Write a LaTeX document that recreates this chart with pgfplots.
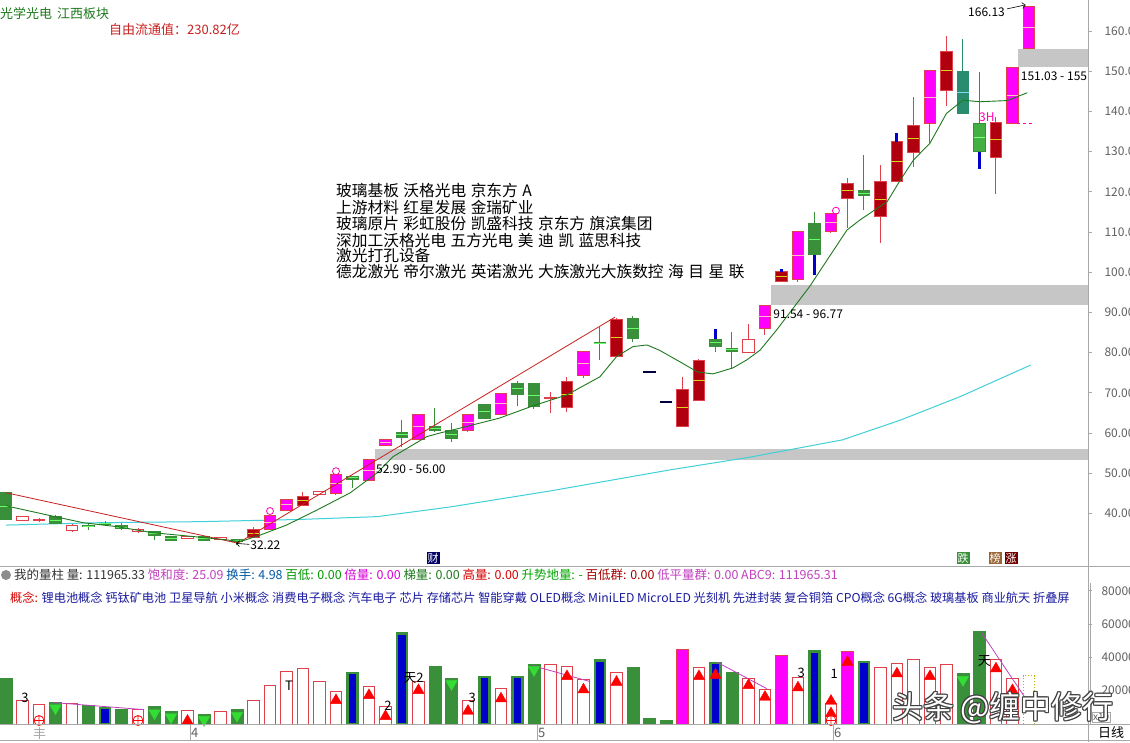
\documentclass[border=0pt]{standalone}
\usepackage{fontspec}
\setmainfont{Noto Sans CJK SC}
\usepackage{pgfplots}
\pgfplotsset{compat=1.18}
\usepgfplotslibrary{statistics}
\usetikzlibrary{arrows.meta}

\definecolor{cred}{HTML}{E0404A}
\definecolor{cdark}{HTML}{B00010}
\definecolor{cmag}{HTML}{FF00FF}
\definecolor{cgreen}{HTML}{3A8F3A}
\definecolor{cteal}{HTML}{2A8C6E}
\definecolor{clgreen}{HTML}{44B044}
\definecolor{cbright}{HTML}{33DD33}
\definecolor{cblue}{HTML}{0000CC}
\definecolor{ccyan}{HTML}{3FD0D8}
\definecolor{cma}{HTML}{1E7A1E}
\definecolor{ctrend}{HTML}{C82020}
\definecolor{cband}{HTML}{C6C6C6}
\definecolor{caxis}{HTML}{A8A8A8}
\definecolor{ctick}{HTML}{606060}
\definecolor{cnavy}{HTML}{1A1AA0}
\definecolor{cpurp}{HTML}{C040C0}

\pgfplotsset{
 cH/.style={draw=cred, line width=1pt, boxplot/every box/.style={fill=white}, boxplot/every median/.style={draw=none}},
 cR/.style={draw=cred, line width=1pt, boxplot/every box/.style={fill=cred}, boxplot/every median/.style={draw=none}},
 cD/.style={draw=cred, line width=1pt, boxplot/every box/.style={fill=cdark}, boxplot/every median/.style={draw=yellow!85!black}},
 cM/.style={draw=cred, line width=1pt, boxplot/every box/.style={fill=cmag}, boxplot/every median/.style={draw=pink}},
 cG/.style={draw=cgreen, line width=1pt, boxplot/every box/.style={fill=cgreen}, boxplot/every median/.style={draw=green!60!white}},
 cT/.style={draw=cteal, line width=1pt, boxplot/every box/.style={fill=cteal}, boxplot/every median/.style={draw=cyan!50!white}},
 cL/.style={draw=cgreen, line width=1pt, boxplot/every box/.style={fill=clgreen}, boxplot/every median/.style={draw=green!50!white}},
 cK/.style={draw=black!75!blue, line width=1pt, boxplot/every box/.style={fill=black!75!blue}, boxplot/every median/.style={draw=none}},
}
\newcommand{\cdl}[7]{\addplot[#7, boxplot prepared={draw position=#1, lower whisker=#2, lower quartile=#3, median=#4, upper quartile=#5, upper whisker=#6}] coordinates {};}
\newcommand{\gap}{\hspace{4.5pt}}
\newcommand{\fs}[1]{\fontsize{#1}{#1}\selectfont}

\begin{document}
\begin{tikzpicture}
\path[use as bounding box, fill=white] (0pt,0pt) rectangle (1130pt,-742pt);

% ---------------- price panel ----------------
\begin{axis}[at={(0pt,0pt)}, anchor=north west, scale only axis, width=1088pt, height=566pt,
  xmin=-0.364, xmax=65.58, ymin=26.92, ymax=167.71,
  axis x line=none, axis y line*=right, axis line style={draw=caxis, line width=0.8pt},
  ytick={40,50,...,160}, tick align=outside, major tick length=4pt,
  tick style={draw=caxis, line width=0.8pt},
  yticklabel={\pgfmathprintnumber[fixed,fixed zerofill,precision=2]{\tick}},
  yticklabel style={anchor=west, font=\fs{12}, text=ctick, xshift=9pt},
  /pgf/number format/assume math mode=true,
  boxplot/draw direction=y, boxplot/box extend=0.72, boxplot/whisker extend=0]

% gap bands
\addplot[fill=cband, draw=none] coordinates {(22.36,53.4) (65.58,53.4) (65.58,56.0) (22.36,56.0)};
\addplot[fill=cband, draw=none] coordinates {(46.36,91.8) (65.58,91.8) (65.58,96.8) (46.36,96.8)};
\addplot[fill=cband, draw=none] coordinates {(61.33,151.1) (65.58,151.1) (65.58,155.5) (61.33,155.5)};

% long moving average (cyan)
\addplot[ccyan, line width=1pt] coordinates {(0,37.1) (5.7,37.7) (11.75,37.95) (17.8,38.5) (22.5,39.2) (26.9,41.6) (33.0,45.6) (40.2,50.8) (45.1,54.0) (50.7,58.3) (54.2,63.2) (57.8,69.0) (62.1,76.9)};

% candles: i, low, body low, mid, body high, high
\cdl{0}{38.5}{38.5}{41.8}{45.15}{45.15}{cG}
\cdl{1}{38.2}{38.2}{38.8}{39.35}{39.35}{cH}
\cdl{2}{37.9}{38.25}{38.4}{38.5}{38.9}{cR}
\cdl{3}{37.5}{37.5}{38.35}{39.2}{39.6}{cG}
\cdl{4}{35.3}{35.7}{36.3}{36.9}{37.3}{cH}
\cdl{5}{35.8}{36.7}{36.85}{37.0}{37.6}{cG}
\cdl{6}{36.9}{37.3}{37.4}{37.5}{38.0}{cG}
\cdl{7}{35.9}{36.3}{36.6}{36.9}{37.7}{cG}
\cdl{8}{35.2}{35.4}{35.7}{36.0}{36.3}{cH}
\cdl{9}{33.4}{34.55}{35.0}{35.45}{35.45}{cG}
\cdl{10}{33.3}{33.3}{33.8}{34.3}{34.3}{cG}
\cdl{11}{33.7}{33.7}{34.0}{34.3}{34.3}{cH}
\cdl{12}{33.3}{33.3}{33.8}{34.3}{34.3}{cG}
\cdl{13}{33.4}{33.4}{33.75}{34.1}{34.1}{cH}
\cdl{14}{32.22}{33.0}{33.3}{33.6}{33.6}{cG}
\cdl{15}{34.05}{34.05}{35.0}{36.0}{36.7}{cD}
\cdl{16}{36.05}{36.05}{37.8}{39.6}{39.6}{cM}
\cdl{17}{40.7}{40.7}{42.1}{43.5}{43.5}{cM}
\cdl{18}{42.0}{42.0}{43.15}{44.3}{45.4}{cD}
\cdl{19}{44.6}{44.6}{45.0}{45.4}{45.6}{cH}
\cdl{20}{44.6}{45.0}{47.4}{49.8}{49.8}{cM}
\cdl{21}{46.2}{48.5}{48.9}{49.3}{49.3}{cG}
\cdl{22}{48.3}{48.3}{50.8}{53.3}{53.3}{cM}
\cdl{23}{56.9}{56.9}{57.65}{58.4}{58.4}{cM}
\cdl{24}{56.6}{58.9}{59.55}{60.2}{63.2}{cG}
\cdl{25}{58.4}{58.4}{61.5}{64.6}{64.6}{cM}
\cdl{26}{60.3}{60.7}{61.2}{61.7}{66.1}{cG}
\cdl{27}{57.85}{58.7}{59.7}{60.7}{62.4}{cG}
\cdl{28}{60.3}{60.7}{62.6}{64.5}{64.5}{cM}
\cdl{29}{63.4}{63.7}{65.4}{67.1}{67.1}{cG}
\cdl{30}{64.7}{64.7}{67.3}{69.9}{69.9}{cM}
\cdl{31}{66.7}{69.7}{70.95}{72.2}{72.9}{cG}
\cdl{32}{65.9}{66.7}{69.45}{72.2}{72.2}{cG}
\cdl{33}{65.1}{68.7}{68.8}{68.9}{70.3}{cR}
\cdl{34}{65.3}{66.3}{69.6}{72.9}{73.85}{cD}
\cdl{35}{73.8}{74.2}{77.2}{80.2}{80.2}{cM}
\cdl{36}{78.2}{82.2}{82.35}{82.5}{86.4}{cG}
\cdl{37}{79.0}{79.0}{83.65}{88.3}{88.5}{cD}
\cdl{38}{82.7}{83.5}{86.0}{88.5}{89.1}{cG}
\cdl{39}{75.1}{75.1}{75.2}{75.3}{75.3}{cK}
\cdl{40}{67.6}{67.6}{67.7}{67.8}{67.8}{cK}
\cdl{41}{61.7}{61.7}{66.3}{70.9}{74.0}{cD}
\cdl{42}{68.1}{68.2}{73.1}{78.0}{78.3}{cD}
\cdl{43}{80.2}{81.5}{82.4}{83.3}{83.3}{cG}
\cdl{44}{75.8}{80.4}{80.7}{81.0}{85.2}{cG}
\cdl{45}{80.0}{80.0}{81.65}{83.3}{87.1}{cH}
\cdl{46}{84.4}{86.0}{88.9}{91.8}{91.8}{cM}
\cdl{47}{97.6}{97.6}{98.85}{100.1}{100.1}{cD}
\cdl{48}{97.6}{98.2}{104.2}{110.2}{110.2}{cM}
\cdl{49}{104.3}{104.3}{108.25}{112.2}{115.1}{cG}
\cdl{50}{109.8}{110.1}{112.35}{114.6}{114.6}{cM}
\cdl{51}{110.9}{118.4}{120.25}{122.1}{123.4}{cD}
\cdl{52}{115.5}{119.0}{119.65}{120.3}{129.2}{cG}
\cdl{53}{107.3}{113.8}{118.15}{122.5}{126.7}{cD}
\cdl{54}{122.5}{122.5}{127.5}{132.5}{132.5}{cD}
\cdl{55}{126.2}{129.9}{133.15}{136.4}{143.7}{cD}
\cdl{56}{132.1}{137.0}{143.55}{150.1}{150.1}{cM}
\cdl{57}{141.3}{145.3}{150.1}{154.9}{158.8}{cD}
\cdl{58}{139.5}{139.5}{144.75}{150.0}{157.9}{cT}
\cdl{59}{130.0}{130.0}{133.5}{137.0}{149.9}{cL}
\cdl{60}{119.5}{128.6}{132.9}{137.2}{138.7}{cD}
\cdl{61}{137.0}{137.0}{143.95}{150.9}{150.9}{cM}
\cdl{62}{155.7}{155.7}{160.9}{166.13}{166.13}{cM}

% blue wick segments
\addplot[cblue, line width=3pt] coordinates {(43,83.3) (43,85.8)};
\addplot[cblue, line width=3pt] coordinates {(47,100.1) (47,100.7)};
\addplot[cblue, line width=3pt] coordinates {(49,99.3) (49,104.3)};
\addplot[cblue, line width=3pt] coordinates {(54,132.5) (54,134.7)};
\addplot[cblue, line width=3pt] coordinates {(59,125.6) (59,130.0)};

% trend line (red)
\addplot[ctrend, line width=0.8pt] coordinates {(0,45.15) (14.05,32.6) (36.9,88.8)};

% short moving average (green)
\addplot[cma, line width=0.9pt] coordinates {(0,42.0) (0.24,41.67) (2.97,39.2) (4.67,37.7) (6.73,36.7) (8.9,35.2) (10.97,34.4) (12.97,33.6) (14.2,33.0) (15.4,34.6) (17.0,37.1) (18.85,40.85) (20.85,45.1) (22.5,50.1) (23.45,54.1) (25.5,59.1) (26.3,60.0) (27.5,61.2) (29.9,63.7) (31.9,66.7) (34.0,69.5) (36.0,74.0) (37.0,79.0) (38.0,81.5) (38.85,81.9) (39.6,80.6) (40.85,77.7) (41.9,75.2) (42.85,74.7) (44.06,76.2) (44.9,78.2) (45.7,80.6) (46.7,85.6) (47.7,91.0) (48.7,96.4) (49.76,103.0) (50.97,110.5) (51.76,113.0) (52.5,115.05) (53.4,117.5) (54.2,122.9) (55.0,127.9) (56.0,132.1) (57.0,139.5) (58.0,142.8) (59.0,142.4) (60.7,142.7) (61.9,144.65)};

% marker circles and 3H dashed line
\addplot[only marks, mark=o, mark size=3.5pt, draw=cmag!70!red, line width=0.8pt] coordinates {(16,40.6) (20,50.5) (50.3,115.3)};
\addplot[cmag!80!red, dashed, line width=0.8pt] coordinates {(61.3,137.1) (62.3,137.1)};

% annotations
\node[anchor=west, inner sep=0pt, font=\fs{12}] at (axis cs:22.42,51.0) {52.90 - 56.00};
\node[anchor=west, inner sep=0pt, font=\fs{12}] at (axis cs:46.5,89.6) {91.54 - 96.77};
\node[anchor=west, inner sep=0pt, font=\fs{12}] at (axis cs:61.5,148.8) {151.03 - 155};
\node[anchor=west, inner sep=0pt, font=\fs{12}] at (axis cs:14.8,32.1) {32.22};
\draw[line width=0.6pt, -{Straight Barb[length=3pt]}] (axis cs:14.75,32.3) -- (axis cs:13.95,32.55);
\node[anchor=east, inner sep=0pt, font=\fs{12}] at (axis cs:60.55,164.7) {166.13};
\draw[line width=0.6pt, -{Straight Barb[length=3pt]}] (axis cs:60.67,165.5) -- (axis cs:61.8,166.5);
\node[inner sep=0pt, font=\fs{12}, text=cmag!70!red] at (axis cs:59.45,138.6) {3H};
\end{axis}

% ---------------- volume panel ----------------
\begin{axis}[at={(0pt,-583pt)}, anchor=north west, scale only axis, width=1088pt, height=141pt,
  xmin=-0.364, xmax=65.58, ymin=0, ymax=84685,
  axis x line=none, axis y line*=right, axis line style={draw=caxis, line width=0.8pt},
  ytick={20000,40000,60000,80000}, scaled y ticks=false, tick align=outside, major tick length=4pt,
  tick style={draw=caxis, line width=0.8pt},
  yticklabel={\pgfmathprintnumber[fixed,1000 sep={}]{\tick}},
  yticklabel style={anchor=west, font=\fs{12}, text=ctick, xshift=6pt},
  /pgf/number format/assume math mode=true]

\addplot[ybar, bar width=0.72, bar shift=0pt, draw=cgreen, fill=cgreen, line width=0.8pt] coordinates {(0,27150) (3,12900) (5,10930) (7,8890) (9,10500) (10,7500) (12,5700) (14,8700) (26,34500) (27,27100) (32,35700) (38,33900) (39,3500) (40,2100) (44,30900) (58,30500) (59,55700)};
\addplot[ybar, bar width=0.72, bar shift=0pt, draw=cred, fill=white, line width=1pt] coordinates {(1,14100) (2,11530) (4,12130) (8,8530) (11,8100) (13,7500) (15,14100) (16,23100) (17,31500) (18,33150) (19,25500) (20,19500) (22,22500) (23,10500) (25,25500) (28,14100) (30,21100) (33,35500) (34,34700) (35,26500) (37,30700) (42,34100) (45,27300) (46,20900) (48,27700) (50,12500) (53,33700) (54,36100) (55,38500) (56,33700) (57,35500) (60,38500) (61,27100)};
\addplot[ybar, bar width=0.6, bar shift=0pt, draw=cgreen, fill=cblue, line width=2.5pt] coordinates {(6,9490) (21,30500) (24,54500) (29,28100) (31,28100) (36,38100) (43,36700) (49,43500) (52,37100)};
\addplot[ybar, bar width=0.72, bar shift=0pt, draw=cred, fill=cmag, line width=1pt] coordinates {(41,44500) (47,41100) (51,43500)};
\addplot[ybar, bar width=0.72, bar shift=0pt, draw=olive!60!yellow, fill=none, dotted, line width=1pt] coordinates {(62,29100)};

\addplot[cpurp, line width=0.8pt] coordinates {(2.85,12900) (8.3,8700)};
\addplot[cpurp, line width=0.8pt] coordinates {(31.9,35100) (35.4,25500)};
\addplot[cpurp, line width=0.8pt] coordinates {(43.1,37100) (46.1,21300)};
\addplot[cpurp, line width=0.8pt] coordinates {(59.15,54500) (61.8,15300)};

\addplot[only marks, mark=triangle*, mark size=6.5pt, color=red] coordinates {(11,1800) (20,14200) (22,17200) (23,4600) (25,20200) (28,7800) (30,15200) (34,28600) (35,20600) (37,25200) (42,28600) (43,29400) (45,23200) (46,16200) (48,21800) (50,13800) (50,6300) (51,37200) (54,30200) (56,28600) (60,33200) (61,20200)};
\addplot[only marks, mark=triangle*, mark size=6.5pt, mark options={rotate=180, fill=cbright, draw=cbright}] coordinates {(3,9500) (9,6500) (10,4100) (12,2500) (14,5100) (27,24100) (32,32500) (58,26500)};
\addplot[only marks, mark=oplus*, mark size=5pt, mark options={draw=red, fill=white, line width=0.8pt}] coordinates {(2,2100) (8,2100) (50,2100)};

\node[font=\fs{13}, inner sep=0pt] at (axis cs:1.15,15900) {3};
\node[font=\fs{13}, inner sep=0pt] at (axis cs:17.15,23100) {T};
\node[font=\fs{13}, inner sep=0pt] at (axis cs:23.15,11100) {2};
\node[font=\fs{13}, inner sep=0pt] at (axis cs:24.7,27900) {天2};
\node[font=\fs{13}, inner sep=0pt] at (axis cs:28.25,15900) {3};
\node[font=\fs{13}, inner sep=0pt] at (axis cs:48.2,30900) {3};
\node[font=\fs{13}, inner sep=0pt] at (axis cs:50.2,30300) {1};
\node[font=\fs{13}, inner sep=0pt] at (axis cs:59.3,38100) {天};
\end{axis}

% ---------------- frame lines ----------------
\draw[caxis, line width=0.8pt] (0pt,-566pt) -- (1130pt,-566pt);
\draw[caxis, line width=0.8pt] (0pt,-724pt) -- (1130pt,-724pt);
\draw[caxis, line width=0.8pt] (0pt,-740.5pt) -- (1130pt,-740.5pt);
\draw[caxis, line width=0.8pt] (1088pt,-566pt) -- (1088pt,-583pt);
\draw[caxis, line width=0.8pt] (1088pt,-724pt) -- (1088pt,-742pt);
\draw[caxis, line width=0.8pt] (1090.5pt,-583pt) -- (1090.5pt,-724pt);
\foreach \x/\t in {190/4,537/5,833/6}{
  \draw[caxis, line width=0.8pt] (\x pt,-724pt) -- (\x pt,-740pt);
  \node[anchor=west, inner sep=0pt, font=\fs{13}, text=ctick] at (\x pt+1pt,-733pt) {\t};
}
\node[anchor=west, inner sep=0pt, font=\fs{13}, text=black!35] at (33pt,-734pt) {丰};
\node[anchor=west, inner sep=0pt, font=\fs{13}] at (1098pt,-733pt) {日线};
\node[anchor=west, draw=caxis, inner sep=1pt, font=\fs{10}, text=ctick] at (1092pt,-717pt) {x10};

% ---------------- header texts ----------------
\node[anchor=west, inner sep=0pt, font=\fs{13}, text=cma] at (0pt,-14pt) {光学光电\hspace{5pt}江西板块};
\node[anchor=west, inner sep=0pt, font=\fs{13}, text=ctrend] at (109pt,-30pt) {自由流通值：230.82亿};

\node[anchor=west, inner sep=0pt, font=\fs{15.7}] at (336pt,-190.5pt) {玻璃基板\gap 沃格光电\gap 京东方\gap A};
\node[anchor=west, inner sep=0pt, font=\fs{15.7}] at (336pt,-207pt) {上游材料\gap 红星发展\gap 金瑞矿业};
\node[anchor=west, inner sep=0pt, font=\fs{15.7}] at (336pt,-223.5pt) {玻璃原片\gap 彩虹股份\gap 凯盛科技\gap 京东方\gap 旗滨集团};
\node[anchor=west, inner sep=0pt, font=\fs{15.7}] at (336pt,-240pt) {深加工沃格光电\gap 五方光电\gap 美\gap 迪\gap 凯\gap 蓝思科技};
\node[anchor=west, inner sep=0pt, font=\fs{15.7}] at (336pt,-256pt) {激光打孔设备};
\node[anchor=west, inner sep=0pt, font=\fs{15.7}] at (336pt,-272pt) {德龙激光\gap 帝尔激光\gap 英诺激光\gap 大族激光大族数控\gap 海\gap 目\gap 星\gap 联};

% small flags
\node[fill=blue!40!black, text=white, inner sep=1pt, font=\fs{11}] at (433pt,-558pt) {财};
\node[fill=cgreen, text=white, inner sep=1pt, font=\fs{11}] at (963pt,-558pt) {跌};
\node[fill=brown!80!black, text=white, inner sep=1pt, font=\fs{11}] at (995pt,-558pt) {榜};
\node[fill=red!45!black, text=white, inner sep=1pt, font=\fs{11}] at (1011pt,-558pt) {涨};

% info rows
\fill[black!45] (6pt,-575pt) circle (5pt);
\node[anchor=west, inner sep=0pt, font=\fs{12.45}] at (14pt,-575pt) {\textcolor{black!80}{我的量柱 量: 111965.33} \textcolor{cpurp}{饱和度: 25.09} \textcolor{teal!70!blue}{换手: 4.98} \textcolor{green!60!black}{百低: 0.00} \textcolor{cmag!85!black}{倍量: 0.00} \textcolor{cma}{梯量: 0.00} \textcolor{red!85!black}{高量: 0.00} \textcolor{green!65!black}{升势地量: -} \textcolor{red!65!black}{百低群: 0.00} \textcolor{cpurp}{低平量群: 0.00} \textcolor{cpurp}{ABC9: 111965.31}};
\node[anchor=west, inner sep=0pt, font=\fs{12.2}] at (10pt,-598pt) {\textcolor{red!85!black}{概念:} \textcolor{cnavy}{锂电池概念 钙钛矿电池 卫星导航 小米概念 消费电子概念 汽车电子 芯片 存储芯片 智能穿戴 OLED概念 MiniLED MicroLED 光刻机 先进封装 复合铜箔 CPO概念 6G概念 玻璃基板 商业航天 折叠屏}};

% watermark
\foreach \dx/\dy in {-1.2/0,1.2/0,0/-1.2,0/1.2,-0.9/-0.9,0.9/0.9,-0.9/0.9,0.9/-0.9}{
  \node[anchor=center, inner sep=0pt, font=\fs{31}, text=black!75] at (1003pt+\dx pt,-708pt+\dy pt) {头条\hspace{6pt}@缠中修行};
}
\node[anchor=center, inner sep=0pt, font=\fs{31}, text=white] at (1003pt,-708pt) {头条\hspace{6pt}@缠中修行};
\end{tikzpicture}
\end{document}
